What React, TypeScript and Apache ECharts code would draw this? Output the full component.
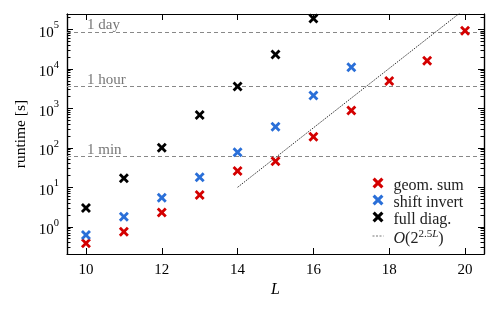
import React, { useEffect, useRef } from 'react';
import * as echarts from 'echarts';

const systemSizes = [10, 11, 12, 13, 14, 15, 16, 17, 18, 19, 20];
const geomSum = [0.38, 0.75, 2.3, 6.4, 26, 46, 190, 880, 4900, 16000, 93000];
const shiftInvert = [0.62, 1.8, 5.4, 18, 77, 340, 2100, 11000];
const fullDiag = [3.0, 17, 100, 680, 3550, 23000, 190000];
const scalingL = [14, 20];
const scalingValues = [10, 330000];
const timeMarks = [60, 3600, 86400];
const timeLabels = ['1 min', '1 hour', '1 day'];
const xTicks = [10, 12, 14, 16, 18, 20];
const yDecades = [0, 1, 2, 3, 4, 5];

const FONT = '"Liberation Serif", "DejaVu Serif", serif';
const RED = '#d40000';
const BLUE = '#2a6fd8';
const BLACK = '#000000';
const XSYM = 'path://M0,2 L2,0 L5,3 L8,0 L10,2 L7,5 L10,8 L8,10 L5,7 L2,10 L0,8 L3,5 Z';

const lg = (v: number) => Math.log10(v);
const Y_MIN = -0.69;
const Y_MAX = 5.39;

const minorTicks: number[] = [];
for (let n = -1; n <= 5; n++) {
  for (let k = 2; k <= 9; k++) {
    const t = n + Math.log10(k);
    if (t > Y_MIN && t < Y_MAX) minorTicks.push(t);
  }
}

export default function App() {
  const ref = useRef<HTMLDivElement>(null);
  useEffect(() => {
    const chart = echarts.init(ref.current!, null, { renderer: 'svg' });
    const axisLine = { show: true, onZero: false, lineStyle: { color: '#000', width: 1.2 } };
    const yBase = (position: string, ticks: number[], len: number, labels: boolean) => ({
      type: 'value',
      position,
      min: Y_MIN,
      max: Y_MAX,
      axisLine,
      splitLine: { show: false },
      axisTick: { show: true, inside: true, length: len, customValues: ticks, lineStyle: { color: '#000', width: 1 } },
      axisLabel: labels
        ? {
            show: true,
            customValues: yDecades,
            margin: 8,
            formatter: (v: number) => `{b|10}{s|${Math.round(v)}}`,
            rich: {
              b: { fontFamily: FONT, fontSize: 15, color: '#000', lineHeight: 20, verticalAlign: 'bottom' },
              s: { fontFamily: FONT, fontSize: 10.5, color: '#000', lineHeight: 20, verticalAlign: 'top' },
            },
          }
        : { show: false },
    });
    const scatterStyle = (color: string) => ({ color, opacity: 1 });
    const option: any = {
      animation: false,
      grid: { left: 67, right: 14, top: 14, bottom: 56 },
      xAxis: [
        {
          type: 'value',
          position: 'bottom',
          min: 9.5,
          max: 20.5,
          axisLine,
          splitLine: { show: false },
          axisTick: { show: true, inside: true, length: 6, customValues: xTicks, lineStyle: { color: '#000', width: 1 } },
          axisLabel: { show: true, customValues: xTicks, margin: 7, fontFamily: FONT, fontSize: 15, color: '#000' },
          name: 'L',
          nameLocation: 'middle',
          nameGap: 26,
          nameTextStyle: { fontFamily: FONT, fontSize: 16, fontStyle: 'italic', color: '#000' },
        },
        {
          type: 'value',
          position: 'top',
          min: 9.5,
          max: 20.5,
          axisLine,
          splitLine: { show: false },
          axisTick: { show: true, inside: true, length: 6, customValues: xTicks, lineStyle: { color: '#000', width: 1 } },
          axisLabel: { show: false },
        },
      ],
      yAxis: [
        {
          ...yBase('left', yDecades, 6, true),
          name: 'runtime [s]',
          nameLocation: 'middle',
          nameGap: 38,
          nameRotate: 90,
          nameTextStyle: { fontFamily: FONT, fontSize: 15.5, color: '#000' },
        },
        yBase('left', minorTicks, 3.5, false),
        yBase('right', yDecades, 6, false),
        yBase('right', minorTicks, 3.5, false),
      ],
      legend: {
        orient: 'vertical',
        left: 367,
        top: 171,
        itemWidth: 11,
        itemHeight: 11,
        itemGap: 1,
        data: [
          'geom. sum',
          'shift invert',
          'full diag.',
          { name: 'scaling', lineStyle: { color: '#777', width: 1, type: [2, 1.5] } },
        ],
        formatter: (name: string) =>
          name === 'scaling' ? '{i|O}{n|(2}{s|2.5}{si|L}{n|)}' : `{n|${name}}`,
        textStyle: {
          fontFamily: FONT,
          fontSize: 16,
          color: '#222',
          padding: [0, 0, 0, 5],
          rich: {
            n: { fontFamily: FONT, fontSize: 16, color: '#222', lineHeight: 18, verticalAlign: 'bottom' },
            i: { fontFamily: FONT, fontSize: 16, fontStyle: 'italic', color: '#222', lineHeight: 18, verticalAlign: 'bottom' },
            s: { fontFamily: FONT, fontSize: 11, color: '#222', lineHeight: 18, verticalAlign: 'top' },
            si: { fontFamily: FONT, fontSize: 11, fontStyle: 'italic', color: '#222', lineHeight: 18, verticalAlign: 'top' },
          },
        },
      },
      series: [
        {
          name: 'scaling',
          type: 'line',
          data: scalingL.map((l, i) => [l, lg(scalingValues[i])]),
          symbol: 'none',
          clip: true,
          lineStyle: { color: '#333', width: 1, type: [1.5, 1.2] },
          itemStyle: { color: 'rgba(0,0,0,0)', borderColor: 'rgba(0,0,0,0)', borderWidth: 0 },
          z: 3,
          markLine: {
            silent: true,
            symbol: 'none',
            animation: false,
            lineStyle: { color: '#888', width: 1, type: [4, 3] },
            label: {
              show: true,
              position: 'insideStartTop',
              distance: [20, 0],
              fontFamily: FONT,
              fontSize: 15,
              color: '#777',
            },
            data: timeMarks.map((t, i) => ({ yAxis: lg(t), label: { formatter: timeLabels[i] } })),
          },
        },
        {
          name: 'geom. sum',
          type: 'scatter',
          symbol: XSYM,
          symbolSize: 10,
          itemStyle: scatterStyle(RED),
          data: geomSum.map((v, i) => [systemSizes[i], lg(v)]),
          z: 5,
        },
        {
          name: 'shift invert',
          type: 'scatter',
          symbol: XSYM,
          symbolSize: 10,
          itemStyle: scatterStyle(BLUE),
          data: shiftInvert.map((v, i) => [systemSizes[i], lg(v)]),
          z: 5,
        },
        {
          name: 'full diag.',
          type: 'scatter',
          symbol: XSYM,
          symbolSize: 10,
          itemStyle: scatterStyle(BLACK),
          data: fullDiag.map((v, i) => [systemSizes[i], lg(v)]),
          z: 5,
        },
      ],
    };
    chart.setOption(option);
    return () => chart.dispose();
  }, []);
  return <div ref={ref} style={{ position: 'fixed', left: 0, top: 0, width: 498, height: 310 }} />;
}
